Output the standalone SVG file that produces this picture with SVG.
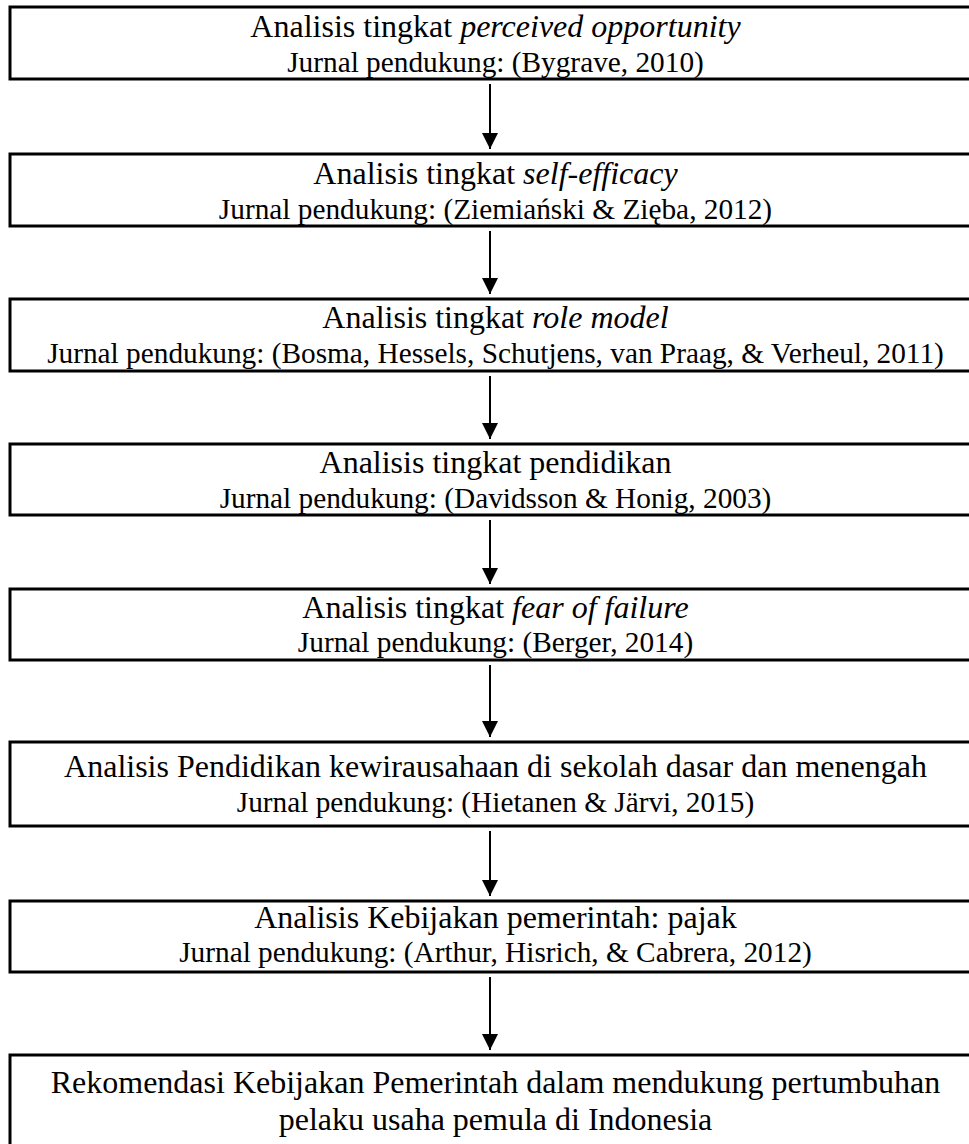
<svg xmlns="http://www.w3.org/2000/svg" width="969" height="1144" viewBox="0 0 969 1144">
<defs>
<marker id="ah" markerUnits="userSpaceOnUse" markerWidth="16" markerHeight="16" refX="16" refY="8" orient="auto" viewBox="0 0 16 16">
<path d="M0,0 L16,8 L0,16 Z" fill="#000"/>
</marker>
<style>
.box{fill:#fff;stroke:#000;stroke-width:3}
.t1{font-family:"Liberation Serif","Times New Roman",serif;font-size:32px;fill:#000;text-anchor:middle}
.t2{font-family:"Liberation Serif","Times New Roman",serif;font-size:29.3px;fill:#000;text-anchor:middle}
.i{font-style:italic}
.arr{stroke:#000;stroke-width:2;fill:none}
</style>
</defs>
<g id="connectors">
<line class="arr" x1="490" y1="84" x2="490" y2="149" marker-end="url(#ah)"/>
<line class="arr" x1="490" y1="231" x2="490" y2="294" marker-end="url(#ah)"/>
<line class="arr" x1="490" y1="376" x2="490" y2="439" marker-end="url(#ah)"/>
<line class="arr" x1="490" y1="520" x2="490" y2="584" marker-end="url(#ah)"/>
<line class="arr" x1="490" y1="665" x2="490" y2="737" marker-end="url(#ah)"/>
<line class="arr" x1="490" y1="831" x2="490" y2="896" marker-end="url(#ah)"/>
<line class="arr" x1="490" y1="977" x2="490" y2="1050" marker-end="url(#ah)"/>
</g>
<g id="node1">
<rect class="box" x="10" y="7" width="972" height="72"/>
<text class="t1" x="495.5" y="37">Analisis tingkat <tspan class="i">perceived opportunity</tspan></text>
<text class="t2" x="495.5" y="72">Jurnal pendukung: (Bygrave, 2010)</text>
</g>
<g id="node2">
<rect class="box" x="10" y="154" width="972" height="72"/>
<text class="t1" x="495.5" y="184">Analisis tingkat <tspan class="i">self-efficacy</tspan></text>
<text class="t2" x="495.5" y="219">Jurnal pendukung: (Ziemiański &amp; Zięba, 2012)</text>
</g>
<g id="node3">
<rect class="box" x="10" y="299" width="972" height="72"/>
<text class="t1" x="495.5" y="328">Analisis tingkat <tspan class="i">role model</tspan></text>
<text class="t2" x="495.5" y="363">Jurnal pendukung: (Bosma, Hessels, Schutjens, van Praag, &amp; Verheul, 2011)</text>
</g>
<g id="node4">
<rect class="box" x="10" y="444" width="972" height="71"/>
<text class="t1" x="495.5" y="473">Analisis tingkat pendidikan</text>
<text class="t2" x="495.5" y="508">Jurnal pendukung: (Davidsson &amp; Honig, 2003)</text>
</g>
<g id="node5">
<rect class="box" x="10" y="589" width="972" height="71"/>
<text class="t1" x="495.5" y="618">Analisis tingkat <tspan class="i">fear of failure</tspan></text>
<text class="t2" x="495.5" y="652">Jurnal pendukung: (Berger, 2014)</text>
</g>
<g id="node6">
<rect class="box" x="10" y="742" width="972" height="84"/>
<text class="t1" x="495.5" y="777">Analisis Pendidikan kewirausahaan di sekolah dasar dan menengah</text>
<text class="t2" x="495.5" y="812">Jurnal pendukung: (Hietanen &amp; Järvi, 2015)</text>
</g>
<g id="node7">
<rect class="box" x="10" y="901" width="972" height="71"/>
<text class="t1" x="495.5" y="928">Analisis Kebijakan pemerintah: pajak</text>
<text class="t2" x="495.5" y="962">Jurnal pendukung: (Arthur, Hisrich, &amp; Cabrera, 2012)</text>
</g>
<g id="node8">
<rect class="box" x="10" y="1055" width="972" height="100"/>
<text class="t1" x="495.5" y="1093">Rekomendasi Kebijakan Pemerintah dalam mendukung pertumbuhan</text>
<text class="t1" x="495.5" y="1130">pelaku usaha pemula di Indonesia</text>
</g>
</svg>
